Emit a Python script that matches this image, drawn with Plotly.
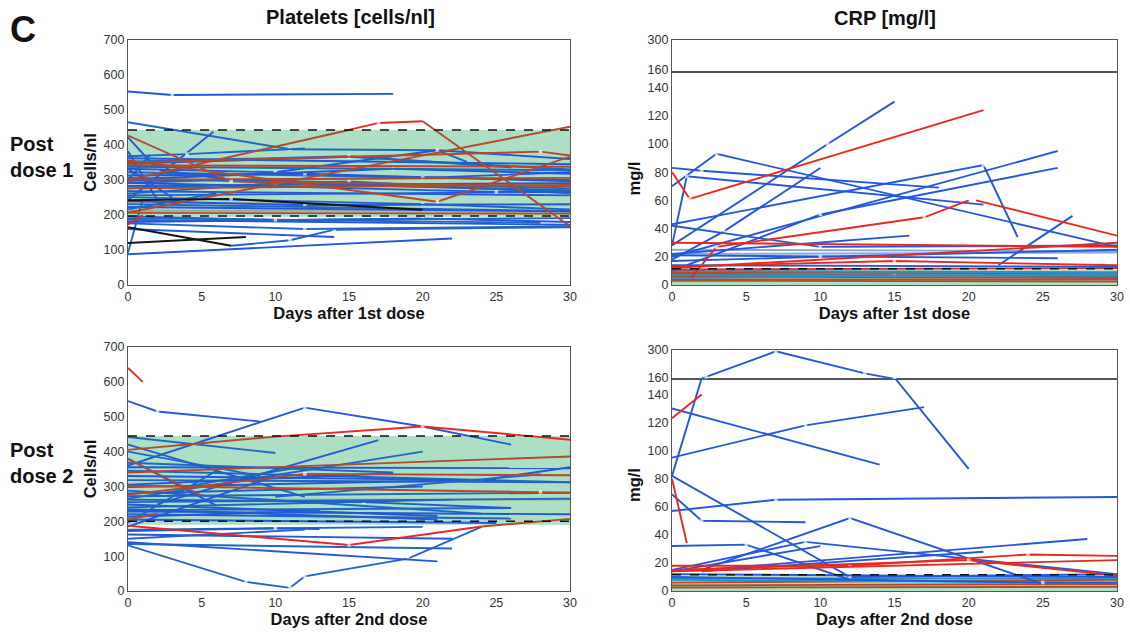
import plotly.graph_objects as go

# ---------------- data (days after dose, value) ----------------
DAY_TICKS = [0, 5, 10, 15, 20, 25, 30]
PLT_TICKS = [0, 100, 200, 300, 400, 500, 600, 700]
CRP_TICKS_LOW = [0, 20, 40, 60, 80, 100, 120, 140]
CRP_TICKS_HIGH = [160, 300]

PLT_NORMAL_1 = (195, 443)      # green reference band, post dose 1
PLT_DASH_1 = [443, 197]
PLT_NORMAL_2 = (190, 445)
PLT_DASH_2 = [445, 200]
CRP_NORMAL = (0, 11)
CRP_DASH = [11.5]

# Platelets, post dose 1
PLT1_BLUE = [
    ([0, 3, 18], [553, 543, 546]),
    ([0, 11, 21, 23], [465, 388, 385, 352]),
    ([0, 5.8], [243, 438]),
    ([0, 1], [92, 245]),
    ([0, 22], [88, 133]),
    ([7, 11, 14, 30], [112, 128, 158, 165]),
    ([0, 14], [160, 137]),
    ([0, 12, 30], [176, 160, 168]),
    ([0, 30], [186, 172]),
    ([0, 28], [191, 178]),
    ([0, 20, 30], [180, 190, 180]),
    ([0, 10, 30], [196, 186, 191]),
    ([0, 2, 7], [422, 330, 300]),
    ([0, 4, 12], [368, 374, 390]),
    ([0, 30], [362, 345]),
    ([0, 15, 30], [346, 366, 330]),
    ([0, 10, 21, 30], [332, 322, 385, 360]),
    ([0, 30], [322, 300]),
    ([0, 12, 30], [313, 318, 296]),
    ([0, 30], [306, 268]),
    ([0, 20, 30], [298, 306, 322]),
    ([0, 7, 30], [291, 301, 276]),
    ([0, 30], [283, 291]),
    ([0, 15, 30], [276, 296, 262]),
    ([0, 30], [268, 256]),
    ([0, 10, 30], [261, 290, 271]),
    ([0, 30], [256, 266]),
    ([0, 20, 30], [251, 231, 216]),
    ([0, 12, 30], [240, 228, 231]),
    ([0, 30], [231, 211]),
    ([0, 30], [223, 210]),
    ([0, 6], [216, 262]),
    ([0, 2], [382, 242]),
    ([0, 1.5], [300, 372]),
    ([0, 3], [332, 250]),
    ([0, 15, 26], [352, 368, 336]),
    ([0, 18, 30], [302, 332, 318]),
    ([0, 30], [338, 328]),
    ([0, 25, 30], [292, 266, 266]),
]
PLT1_RED = [
    ([0, 1], [172, 200]),
    ([15, 17, 20], [443, 463, 468]),
]
PLT1_BROWN = [
    ([0, 15], [300, 443]),
    ([0, 30], [207, 452]),
    ([0, 7, 30], [427, 296, 282]),
    ([0, 21, 30], [356, 238, 367]),
    ([20, 30], [468, 168]),
    ([0, 28, 30], [350, 381, 370]),
    ([0, 30], [301, 306]),
    ([0, 30], [276, 286]),
    ([0, 30], [206, 204]),
    ([0, 30], [342, 338]),
]
PLT1_BLACK = [
    ([0, 7], [165, 112]),
    ([0, 8], [120, 137]),
    ([0, 7, 20], [242, 246, 215]),
]
PLT1_GRAY = [
    ([0, 30], [236, 228]),
    ([0, 30], [212, 213]),
]

# Platelets, post dose 2
PLT2_BLUE = [
    ([0, 2, 9], [545, 515, 486]),
    ([0, 8, 11, 12, 19, 24], [131, 26, 9, 42, 93, 184]),
    ([0, 12, 20, 26], [360, 526, 472, 420]),
    ([0, 10], [442, 396]),
    ([2, 17], [250, 433]),
    ([0, 20], [265, 400]),
    ([0, 21], [140, 85]),
    ([0, 22], [135, 122]),
    ([0, 22], [162, 150]),
    ([0, 20], [176, 184]),
    ([0, 10, 13], [172, 180, 178]),
    ([0, 12], [150, 176]),
    ([0, 25], [205, 195]),
    ([0, 26], [232, 238]),
    ([0, 30], [355, 352]),
    ([0, 30], [345, 312]),
    ([0, 24, 30], [330, 318, 355]),
    ([0, 18], [368, 340]),
    ([0, 12], [420, 270]),
    ([0, 9], [400, 330]),
    ([0, 6], [380, 245]),
    ([0, 30], [318, 312]),
    ([0, 25], [298, 320]),
    ([0, 24], [288, 222]),
    ([0, 20], [280, 300]),
    ([0, 30], [272, 282]),
    ([0, 16, 26], [262, 255, 238]),
    ([0, 30], [255, 265]),
    ([0, 21], [248, 215]),
    ([0, 22], [240, 262]),
    ([0, 30], [228, 220]),
    ([0, 26], [220, 208]),
    ([0, 13], [213, 230]),
    ([0, 6], [196, 345]),
    ([0, 10], [185, 330]),
    ([4, 12], [300, 358]),
    ([0, 18], [305, 338]),
    ([10, 28], [270, 335]),
    ([0, 21], [235, 205]),
]
PLT2_RED = [
    ([0, 1], [640, 600]),
    ([10, 20, 30], [443, 472, 434]),
    ([0, 15, 24], [187, 132, 185]),
]
PLT2_BROWN = [
    ([0, 10], [405, 443]),
    ([24, 30], [185, 207]),
    ([0, 5], [378, 274]),
    ([0, 28, 30], [302, 284, 282]),
    ([0, 12, 30], [276, 336, 332]),
    ([0, 30], [340, 386]),
    ([0, 2], [205, 222]),
]
PLT2_GRAY = [
    ([0, 30], [262, 262]),
    ([5, 13], [285, 295]),
]

# CRP, post dose 1
CRP1_BLUE = [
    ([0, 10.5, 15], [28, 100, 130]),
    ([0, 3, 30], [70, 93, 27]),
    ([0, 2, 18], [83, 81, 69]),
    ([0, 1, 21], [28, 77, 57]),
    ([0, 21, 23.3], [43, 85, 34]),
    ([0, 26], [20, 95]),
    ([0, 10, 26], [10, 50, 83]),
    ([0, 3.5, 10], [18, 38, 83]),
    ([0, 16], [22, 35]),
    ([0, 10, 30], [42, 27, 28]),
    ([22, 27], [14, 49]),
    ([0, 26], [21, 19]),
    ([0, 10, 30], [17, 20, 25]),
    ([0, 30], [14, 13]),
]
CRP1_LIGHT = [
    ([0, 30], [25, 24]),
    ([0, 30], [22, 23]),
]
CRP1_RED = [
    ([0, 1.2, 21], [80, 61, 124]),
    ([1.3, 3, 17, 20], [5, 27, 48, 60]),
    ([20.5, 30], [60, 35]),
    ([0, 30], [30, 27]),
    ([0, 30], [12, 30]),
    ([0, 15, 30], [13, 17, 14]),
    ([0, 30], [11, 12]),
]
CRP1_BROWN = [
    ([0, 30], [6, 5]),
    ([0, 30], [4, 4]),
    ([0, 15, 30], [8, 7, 6]),
    ([0, 30], [3, 2.5]),
    ([0, 30], [9, 8]),
]
CRP1_TEAL = [
    ([0, 30], [7, 6.5]),
    ([0, 30], [10, 9]),
    ([0, 30], [5, 8]),
]

# CRP, post dose 2
CRP2_BLUE = [
    ([0, 2.3, 7, 13, 15, 20], [82, 162, 293, 180, 152, 87]),
    ([0, 14], [130, 90]),
    ([0, 9, 17], [95, 118, 131]),
    ([0, 12, 30], [82, 10, 12]),
    ([0, 2, 9], [69, 50, 49]),
    ([0, 7, 30], [57, 65, 67]),
    ([0, 5, 12], [32, 33, 8]),
    ([2, 12, 25], [15, 52, 5]),
    ([0, 9, 30], [15, 35, 12]),
    ([0, 10], [14, 32]),
    ([2, 28], [15, 37]),
    ([2, 21], [14, 28]),
    ([0, 30], [12, 10]),
    ([0, 25, 30], [10, 6, 6]),
]
CRP2_RED = [
    ([0, 2], [123, 140]),
    ([0, 1], [80, 34]),
    ([0, 12, 24, 30], [18, 18, 26, 25]),
    ([0, 20, 30], [15, 22, 11]),
    ([0, 30], [14, 22]),
]
CRP2_BROWN = [
    ([0, 30], [4, 5]),
    ([0, 30], [2.5, 3]),
    ([0, 30], [6, 8]),
]
CRP2_TEAL = [
    ([0, 30], [8, 6]),
    ([0, 30], [9, 9]),
]

# ---------------- styling ----------------
FONT = "Arial, Liberation Sans, sans-serif"
BLUE = "#2458d8"
BLUE2 = "#1f66c6"
LIGHT = "#86a9dd"
RED = "#e8291f"
BROWN = "#b04b2b"
BLACK = "#141414"
GRAY = "#9aa8a2"
TEAL = "#2a8fc9"
GREEN = "#acdfc3"
FRAME = "#555555"

W, H = 1130, 632
def px(x):
    return x / W
def py(y):
    return 1 - y / H

fig = go.Figure()

def add_band(lo_hi, xa, ya):
    lo, hi = lo_hi
    fig.add_trace(go.Scatter(x=[0, 30, 30, 0], y=[lo, lo, hi, hi], fill="toself",
                             fillcolor=GREEN, mode="lines", line=dict(width=0),
                             xaxis=xa, yaxis=ya, showlegend=False, hoverinfo="skip"))

def add_series(series, color, xa, ya, width=1.9, alt=None):
    for i, (d, v) in enumerate(series):
        c = alt if (alt and i % 2 == 1) else color
        # small white marks at interior measurement days, as in the original figure
        sizes = [0] + [3.5] * (len(d) - 2) + [0] if len(d) > 2 else [0] * len(d)
        fig.add_trace(go.Scatter(x=d, y=v, mode="lines+markers",
                                 line=dict(color=c, width=width),
                                 marker=dict(color="white", size=sizes, symbol="square",
                                             line=dict(width=0)),
                                 xaxis=xa, yaxis=ya, showlegend=False, hoverinfo="skip"))

def add_dash(levels, xa, ya):
    for lv in levels:
        fig.add_trace(go.Scatter(x=[0, 30], y=[lv, lv], mode="lines",
                                 line=dict(color="#111", width=1.5, dash="dash"),
                                 xaxis=xa, yaxis=ya, showlegend=False, hoverinfo="skip"))

# Platelets post dose 1 -> x/y
add_band(PLT_NORMAL_1, "x", "y")
add_series(PLT1_GRAY, GRAY, "x", "y")
add_series(PLT1_BLUE, BLUE, "x", "y", alt=BLUE2)
add_series(PLT1_BROWN, BROWN, "x", "y")
add_series(PLT1_BLACK, BLACK, "x", "y")
add_series(PLT1_RED, RED, "x", "y")
add_dash(PLT_DASH_1, "x", "y")

# Platelets post dose 2 -> x4/y4
add_band(PLT_NORMAL_2, "x4", "y4")
add_series(PLT2_GRAY, GRAY, "x4", "y4")
add_series(PLT2_BLUE, BLUE, "x4", "y4", alt=BLUE2)
add_series(PLT2_BROWN, BROWN, "x4", "y4")
add_series(PLT2_RED, RED, "x4", "y4")
add_dash(PLT_DASH_2, "x4", "y4")

# CRP: broken axis, lower part (x2/y2, x5/y5) and upper part (x3/y3, x6/y6)
def crp_panel(groups, xl, yl, xu, yu):
    add_band(CRP_NORMAL, xl, yl)
    add_band(CRP_NORMAL, xu, yu)   # out of range above the break; keeps the upper frame drawn
    for series, color in groups:
        add_series(series, color, xl, yl)
        high = [s for s in series if max(s[1]) > 151]
        if high:
            add_series(high, color, xu, yu)
    add_dash(CRP_DASH, xl, yl)

crp_panel([(CRP1_BROWN, BROWN), (CRP1_TEAL, TEAL), (CRP1_LIGHT, LIGHT),
           (CRP1_BLUE, BLUE), (CRP1_RED, RED)], "x2", "y2", "x3", "y3")
crp_panel([(CRP2_BROWN, BROWN), (CRP2_TEAL, TEAL),
           (CRP2_BLUE, BLUE), (CRP2_RED, RED)], "x5", "y5", "x6", "y6")

axis_common = dict(showgrid=False, zeroline=False, showline=True, linecolor=FRAME,
                   linewidth=1.3, mirror=True, ticks="",
                   tickfont=dict(family=FONT, size=12.5, color="#333"))
title_font = dict(family=FONT, size=16.5, color="#111")

LX = [px(128), px(570)]
RX = [px(672), px(1117)]

def xax(domain, anchor, title=None, labels=True):
    d = dict(axis_common, domain=domain, anchor=anchor, range=[0, 30], tickvals=DAY_TICKS,
             showticklabels=labels)
    if title:
        d["title"] = dict(text="<b>%s</b>" % title, font=title_font, standoff=3)
    return d

def yax(domain, anchor, rng, ticks, title=None):
    d = dict(axis_common, domain=domain, anchor=anchor, range=rng, tickvals=ticks)
    if title:
        d["title"] = dict(text="<b>%s</b>" % title, font=title_font, standoff=2)
    return d

fig.update_layout(
    width=W, height=H, margin=dict(l=0, r=0, t=0, b=0, autoexpand=False),
    paper_bgcolor="white", plot_bgcolor="white", showlegend=False,
    xaxis=xax(LX, "y", "Days after 1st dose"),
    yaxis=yax([py(285), py(40)], "x", [0, 700], PLT_TICKS, "Cells/nl"),
    xaxis2=xax(RX, "y2", "Days after 1st dose"),
    yaxis2=yax([py(285), py(72)], "x2", [0, 151], CRP_TICKS_LOW, "mg/l"),
    xaxis3=xax(RX, "y3", labels=False),
    yaxis3=yax([py(72), py(40)], "x3", [151, 300], CRP_TICKS_HIGH),
    xaxis4=xax(LX, "y4", "Days after 2nd dose"),
    yaxis4=yax([py(591), py(347)], "x4", [0, 700], PLT_TICKS, "Cells/nl"),
    xaxis5=xax(RX, "y5", "Days after 2nd dose"),
    yaxis5=yax([py(591), py(379)], "x5", [0, 151], CRP_TICKS_LOW, "mg/l"),
    xaxis6=xax(RX, "y6", labels=False),
    yaxis6=yax([py(379), py(350)], "x6", [151, 300], CRP_TICKS_HIGH),
)

def note(text, x, y, size, xanchor="center", yanchor="middle", align="center"):
    fig.add_annotation(text=text, x=px(x), y=py(y), xref="paper", yref="paper",
                       showarrow=False, xanchor=xanchor, yanchor=yanchor, align=align,
                       borderpad=0, font=dict(family=FONT, size=size, color="#111"))

note("<b>C</b>", 9, 29, 36, xanchor="left")
note("<b>Platelets [cells/nl]</b>", 350, 17, 20)
note("<b>CRP [mg/l]</b>", 885, 18, 20)
note("<b>Post<br>dose 1</b>", 9, 157, 20, xanchor="left", align="left")
note("<b>Post<br>dose 2</b>", 9, 463, 20, xanchor="left", align="left")

fig.write_html("out.html", config={"displayModeBar": False},
               post_script="document.body.style.margin='0px';")
